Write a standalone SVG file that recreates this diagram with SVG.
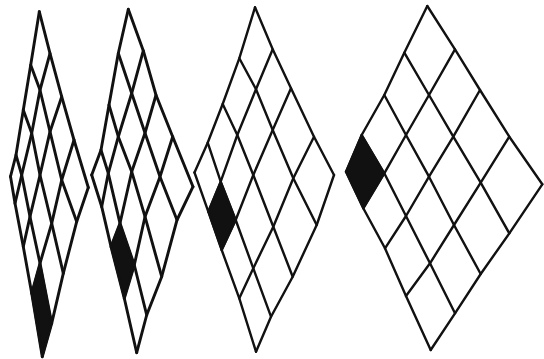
<svg xmlns="http://www.w3.org/2000/svg" width="544" height="359" viewBox="0 0 544 359">
<style>
.g{fill:none;stroke:#111;stroke-width:2.4;stroke-linejoin:round;stroke-linecap:round}
.t{stroke-width:2.9}
.b{fill:#111;stroke:#111;stroke-width:2;stroke-linejoin:round}
</style>
<rect width="544" height="359" fill="#fff"/>
<g id="grid1">
<polygon class="b" points="40,263.3 51.7,323.3 42.3,356.7 31.7,293.3"/>
<g class="g t">
<polyline points="39.3,11.7 30.7,65 23.3,110 16,155 10.5,176.5"/>
<polyline points="50,53.3 40,90 31.7,133.3 21.7,175 15,203.3"/>
<polyline points="61.7,96.7 50,131.7 40,175 30,216.7 23.3,246.7"/>
<polyline points="74,140 61.7,180 51.7,223.3 40,263.3 31.7,293.3"/>
<polyline points="88.3,187.5 76.7,221.7 63.3,273.3 51.7,323.3 42.3,356.7"/>
<polyline points="39.3,11.7 50,53.3 61.7,96.7 74,140 88.3,187.5"/>
<polyline points="30.7,65 40,90 50,131.7 61.7,180 76.7,221.7"/>
<polyline points="23.3,110 31.7,133.3 40,175 51.7,223.3 63.3,273.3"/>
<polyline points="16,155 21.7,175 30,216.7 40,263.3 51.7,323.3"/>
<polyline points="10.5,176.5 15,203.3 23.3,246.7 31.7,293.3 42.3,356.7"/>
</g>
</g>
<g id="grid2">
<polygon class="b" points="120,223.3 134.3,265 124.3,298.3 111,246.7"/>
<g class="g t">
<polyline points="128.3,9.3 118.3,53.3 109,105 101,150 91.7,175"/>
<polyline points="143.3,50.7 131.7,93.3 118.3,136.7 108.3,173.3 101.7,206.7"/>
<polyline points="156,95 145,133 131.7,171.7 120,223.3 111,246.7"/>
<polyline points="172.7,136.7 160,176.7 145,216.7 134.3,265 124.3,298.3"/>
<polyline points="193,186.7 177,220 161.7,276.7 146.7,315 136.7,352.7"/>
<polyline points="128.3,9.3 143.3,50.7 156,95 172.7,136.7 193,186.7"/>
<polyline points="118.3,53.3 131.7,93.3 145,133 160,176.7 177,220"/>
<polyline points="109,105 118.3,136.7 131.7,171.7 145,216.7 161.7,276.7"/>
<polyline points="101,150 108.3,173.3 120,223.3 134.3,265 146.7,315"/>
<polyline points="91.7,175 101.7,206.7 111,246.7 124.3,298.3 136.7,352.7"/>
</g>
</g>
<g id="grid3">
<polygon class="b" points="220.7,181.7 235.7,220 221.7,250 208.3,211.7"/>
<g class="g">
<polyline points="255,7.3 239.3,58.3 222.7,104 207.7,142.7 194.5,172.5"/>
<polyline points="272.7,49.3 256,89.3 237.3,135 220.7,181.7 208.3,211.7"/>
<polyline points="291,88.3 272.7,130 253.3,175 235.7,220 221.7,250"/>
<polyline points="314,136.7 293.3,178.3 273.3,226.7 253.3,268.3 239.3,298.3"/>
<polyline points="334,175 316.7,225 292.7,276.7 271,316.7 256,351.7"/>
<polyline points="255,7.3 272.7,49.3 291,88.3 314,136.7 334,175"/>
<polyline points="239.3,58.3 256,89.3 272.7,130 293.3,178.3 316.7,225"/>
<polyline points="222.7,104 237.3,135 253.3,175 273.3,226.7 292.7,276.7"/>
<polyline points="207.7,142.7 220.7,181.7 235.7,220 253.3,268.3 271,316.7"/>
<polyline points="194.5,172.5 208.3,211.7 221.7,250 239.3,298.3 256,351.7"/>
</g>
</g>
<g id="grid4">
<polygon class="b" points="361.7,135 384.3,173.3 363.3,208.3 346,171.7"/>
<g class="g">
<polyline points="427.3,6 404.3,52.7 384.3,95 361.7,135 346,171.7"/>
<polyline points="455,49.3 429,95 406,135 384.3,173.3 363.3,208.3"/>
<polyline points="480,90 453.3,136.7 429,176.7 406,216 385,248.3"/>
<polyline points="509.3,136.7 480.7,182.7 454,225 430,263.3 406,296"/>
<polyline points="542.3,184.3 509.3,233.3 480.7,274 455,313.3 430.7,350"/>
<polyline points="427.3,6 455,49.3 480,90 509.3,136.7 542.3,184.3"/>
<polyline points="404.3,52.7 429,95 453.3,136.7 480.7,182.7 509.3,233.3"/>
<polyline points="384.3,95 406,135 429,176.7 454,225 480.7,274"/>
<polyline points="361.7,135 384.3,173.3 406,216 430,263.3 455,313.3"/>
<polyline points="346,171.7 363.3,208.3 385,248.3 406,296 430.7,350"/>
</g>
</g>
</svg>
